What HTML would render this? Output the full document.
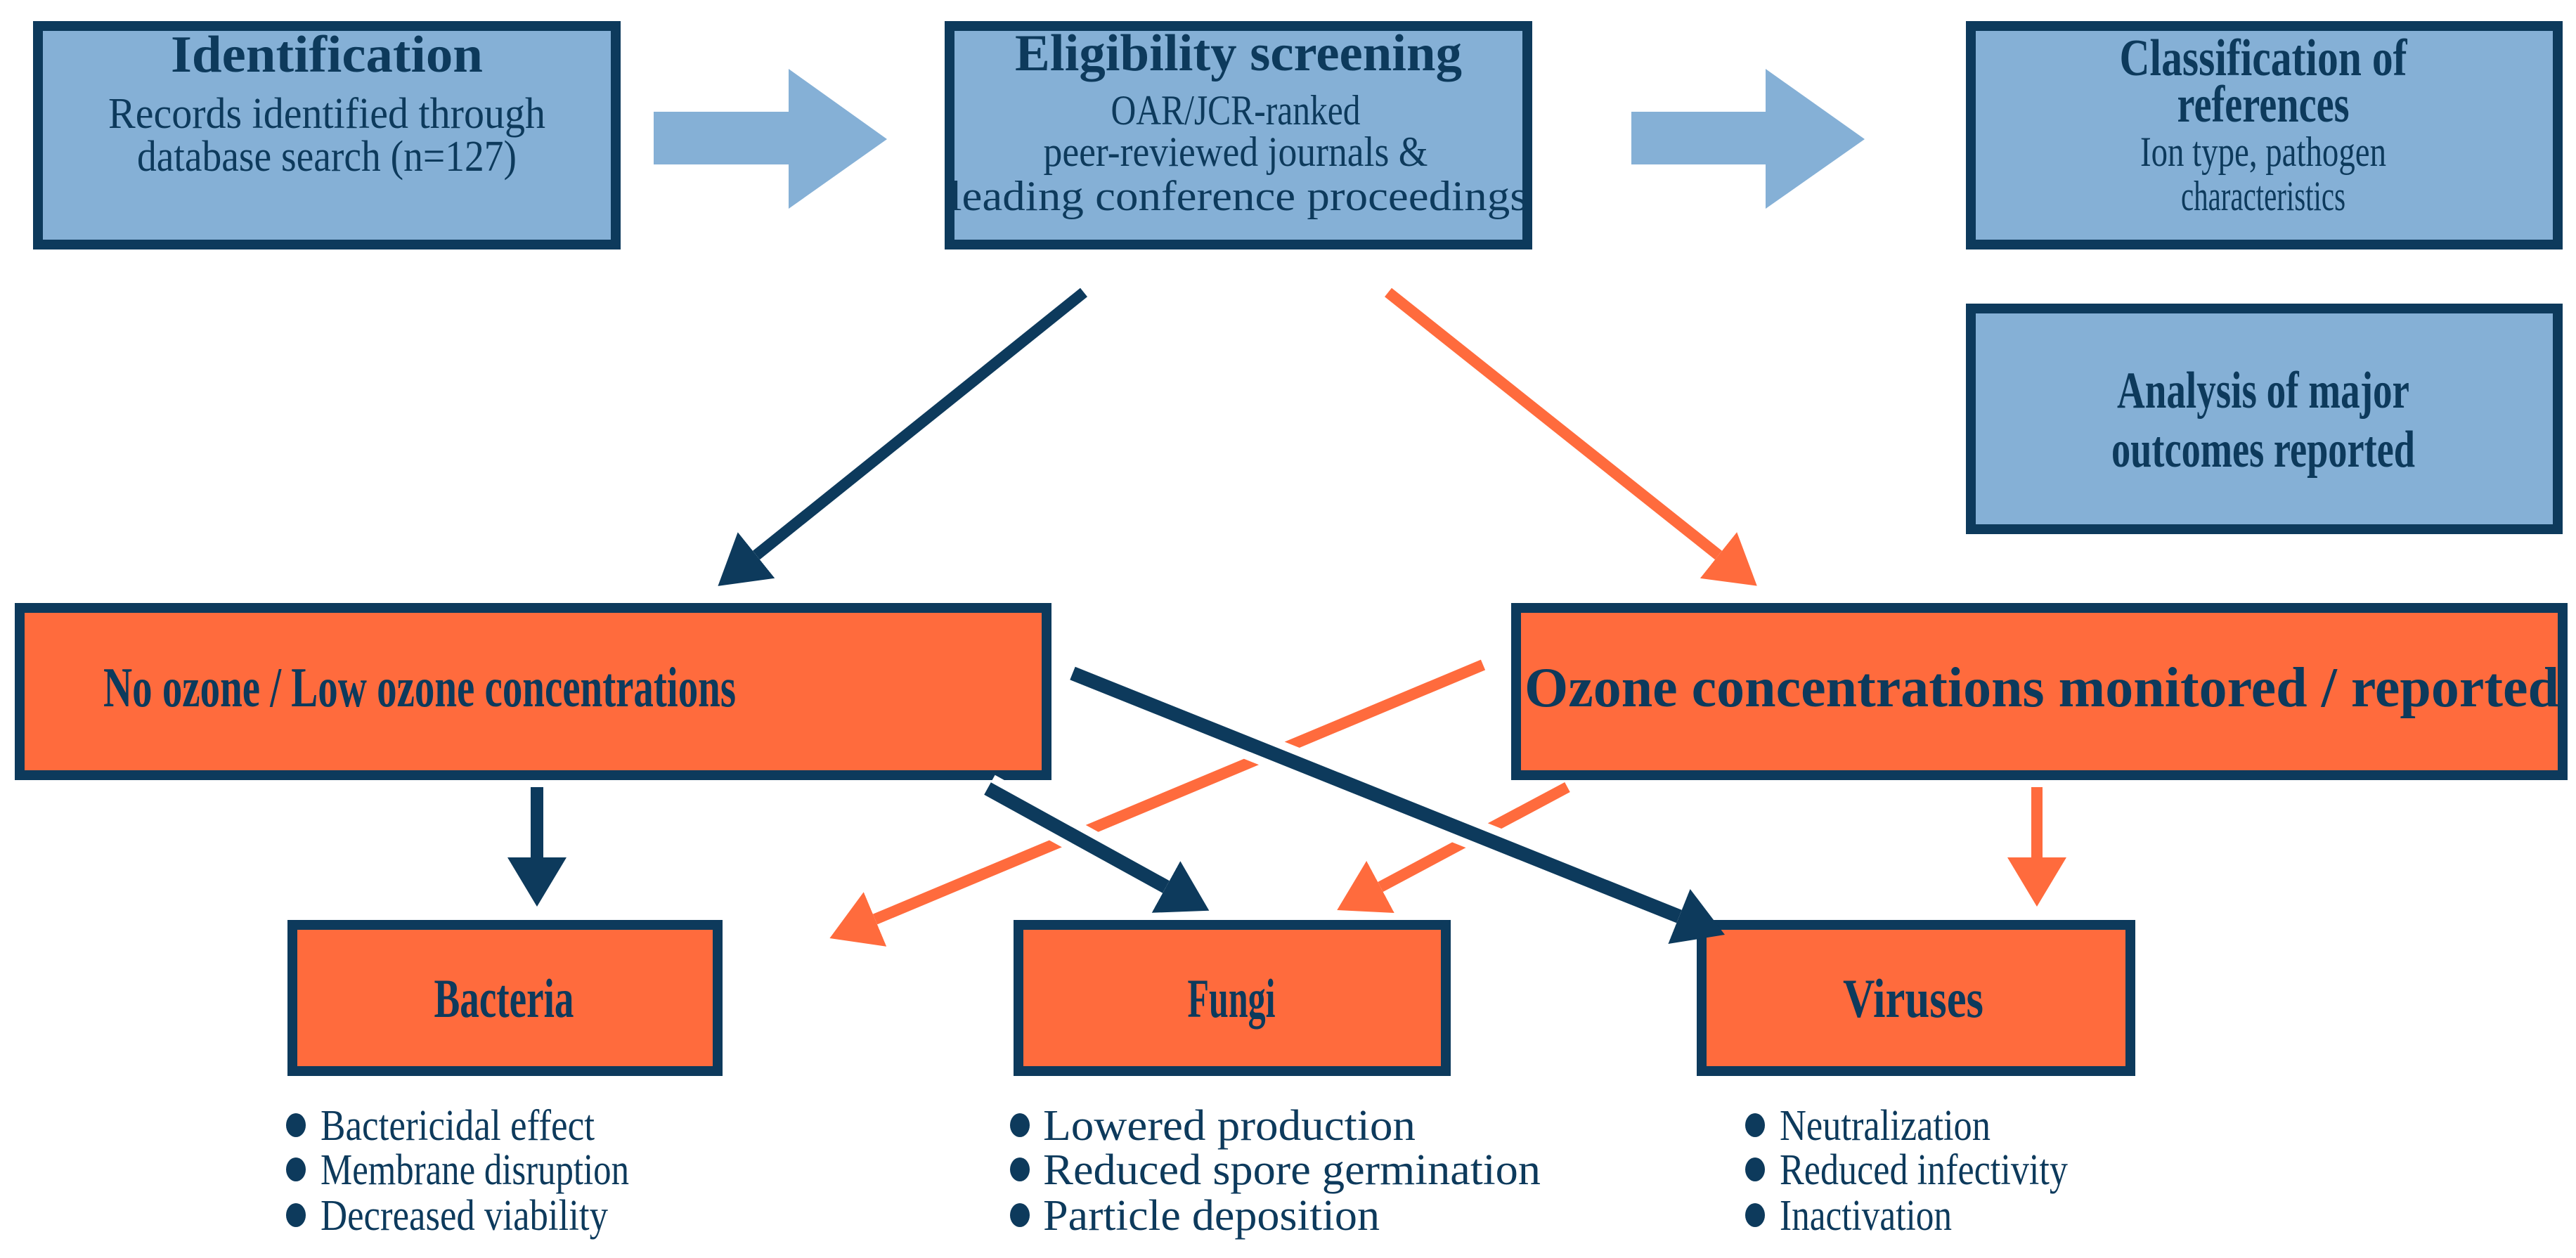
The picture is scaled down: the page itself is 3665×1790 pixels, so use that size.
<!DOCTYPE html>
<html><head><meta charset="utf-8"><style>
html,body{margin:0;padding:0;background:#fff;}
svg{display:block;}
text{font-family:"Liberation Serif",serif;fill:#0d3a5c;}
.b{font-weight:bold;}
</style></head><body>
<svg width="3665" height="1790" viewBox="0 0 3665 1790" xmlns="http://www.w3.org/2000/svg">
<defs>
<marker id="hd" markerUnits="userSpaceOnUse" markerWidth="70" markerHeight="84" viewBox="0 0 70 84" refX="0" refY="42" orient="auto"><path d="M0,0 L70,42 L0,84 z" fill="#0d3a5c"/></marker>
<marker id="ho" markerUnits="userSpaceOnUse" markerWidth="70" markerHeight="84" viewBox="0 0 70 84" refX="0" refY="42" orient="auto"><path d="M0,0 L70,42 L0,84 z" fill="#ff6b3d"/></marker>
</defs>

<g fill="#85b0d6" stroke="#0d3a5c" stroke-width="14">
<rect x="54" y="37" width="822" height="311"/>
<rect x="1351" y="37" width="822" height="311"/>
<rect x="2804" y="37" width="835" height="311"/>
<rect x="2804" y="439" width="835" height="314"/>
</g>
<path d="M930,159 L1122,159 L1122,98 L1262,198 L1122,297 L1122,234 L930,234 z" fill="#85b0d6"/>
<path d="M2321,159 L2512,159 L2512,98 L2653,198 L2512,297 L2512,234 L2321,234 z" fill="#85b0d6"/>

<text class="b" x="465" y="102" font-size="74" text-anchor="middle" textLength="444" lengthAdjust="spacingAndGlyphs">Identification</text>
<text x="465" y="182" font-size="62" text-anchor="middle" textLength="622" lengthAdjust="spacingAndGlyphs">Records identified through</text>
<text x="465" y="243" font-size="62" text-anchor="middle" textLength="540" lengthAdjust="spacingAndGlyphs">database search (n=127)</text>

<text class="b" x="1762" y="100" font-size="74" text-anchor="middle" textLength="636" lengthAdjust="spacingAndGlyphs">Eligibility screening</text>
<text x="1758" y="177" font-size="60" text-anchor="middle" textLength="355" lengthAdjust="spacingAndGlyphs">OAR/JCR-ranked</text>
<text x="1758" y="236" font-size="60" text-anchor="middle" textLength="547" lengthAdjust="spacingAndGlyphs">peer-reviewed journals &amp;</text>
<text x="1762" y="299" font-size="60" text-anchor="middle" textLength="823" lengthAdjust="spacingAndGlyphs">leading conference proceedings</text>

<text class="b" x="3220" y="107" font-size="74" text-anchor="middle" textLength="409" lengthAdjust="spacingAndGlyphs">Classification of</text>
<text class="b" x="3220" y="173" font-size="74" text-anchor="middle" textLength="245" lengthAdjust="spacingAndGlyphs">references</text>
<text x="3220" y="236" font-size="60" text-anchor="middle" textLength="350" lengthAdjust="spacingAndGlyphs">Ion type, pathogen</text>
<text x="3220" y="299" font-size="60" text-anchor="middle" textLength="234" lengthAdjust="spacingAndGlyphs">characteristics</text>

<text class="b" x="3220" y="580" font-size="74" text-anchor="middle" textLength="416" lengthAdjust="spacingAndGlyphs">Analysis of major</text>
<text class="b" x="3220" y="664" font-size="74" text-anchor="middle" textLength="432" lengthAdjust="spacingAndGlyphs">outcomes reported</text>

<line x1="1542" y1="416" x2="1076" y2="790" stroke="#0d3a5c" stroke-width="16" marker-end="url(#hd)"/>
<line x1="1975" y1="416" x2="2445" y2="790" stroke="#ff6b3d" stroke-width="16" marker-end="url(#ho)"/>

<g fill="#ff6b3d" stroke="#0d3a5c" stroke-width="14">
<rect x="28" y="865" width="1461" height="238"/>
<rect x="2157" y="865" width="1489" height="238"/>
<rect x="416" y="1316" width="605" height="208"/>
<rect x="1449" y="1316" width="608" height="208"/>
<rect x="2421" y="1316" width="610" height="208"/>
</g>
<text class="b" x="597" y="1005" font-size="80" text-anchor="middle" textLength="900" lengthAdjust="spacingAndGlyphs">No ozone / Low ozone concentrations</text>
<text class="b" x="2905" y="1005" font-size="80" text-anchor="middle" textLength="1472" lengthAdjust="spacingAndGlyphs">Ozone concentrations  monitored / reported</text>
<text class="b" x="717" y="1447" font-size="78" text-anchor="middle" textLength="199" lengthAdjust="spacingAndGlyphs">Bacteria</text>
<text class="b" x="1752" y="1447" font-size="78" text-anchor="middle" textLength="125" lengthAdjust="spacingAndGlyphs">Fungi</text>
<text class="b" x="2722" y="1447" font-size="78" text-anchor="middle" textLength="200" lengthAdjust="spacingAndGlyphs">Viruses</text>

<line x1="2110" y1="946" x2="1245" y2="1308" stroke="#ff6b3d" stroke-width="16" marker-end="url(#ho)"/>
<line x1="2230" y1="1120" x2="1964" y2="1262" stroke="#ff6b3d" stroke-width="16" marker-end="url(#ho)"/>
<line x1="2898" y1="1120" x2="2898" y2="1220" stroke="#ff6b3d" stroke-width="16" marker-end="url(#ho)"/>
<line x1="1405" y1="1122" x2="1659" y2="1262" stroke="#fff" stroke-width="44"/>
<line x1="1530" y1="960" x2="2389" y2="1304" stroke="#fff" stroke-width="44"/>
<line x1="764" y1="1120" x2="764" y2="1220" stroke="#0d3a5c" stroke-width="18" marker-end="url(#hd)"/>
<line x1="1405" y1="1122" x2="1659" y2="1262" stroke="#0d3a5c" stroke-width="20" marker-end="url(#hd)"/>
<line x1="1526" y1="958" x2="2389" y2="1304" stroke="#0d3a5c" stroke-width="20" marker-end="url(#hd)"/>

<g fill="#0d3a5c">
<ellipse cx="421" cy="1601" rx="14" ry="17"/><ellipse cx="421" cy="1664" rx="14" ry="17"/><ellipse cx="421" cy="1729" rx="14" ry="17"/>
<ellipse cx="1451" cy="1601" rx="14" ry="17"/><ellipse cx="1451" cy="1664" rx="14" ry="17"/><ellipse cx="1451" cy="1729" rx="14" ry="17"/>
<ellipse cx="2497" cy="1601" rx="14" ry="17"/><ellipse cx="2497" cy="1664" rx="14" ry="17"/><ellipse cx="2497" cy="1729" rx="14" ry="17"/>
</g>
<g font-size="62">
<text x="456" y="1622" textLength="390" lengthAdjust="spacingAndGlyphs">Bactericidal effect</text>
<text x="456" y="1685" textLength="439" lengthAdjust="spacingAndGlyphs">Membrane disruption</text>
<text x="456" y="1750" textLength="409" lengthAdjust="spacingAndGlyphs">Decreased viability</text>
<text x="1484" y="1622" textLength="530" lengthAdjust="spacingAndGlyphs">Lowered production</text>
<text x="1484" y="1685" textLength="708" lengthAdjust="spacingAndGlyphs">Reduced spore germination</text>
<text x="1484" y="1750" textLength="479" lengthAdjust="spacingAndGlyphs">Particle deposition</text>
<text x="2532" y="1622" textLength="300" lengthAdjust="spacingAndGlyphs">Neutralization</text>
<text x="2532" y="1685" textLength="410" lengthAdjust="spacingAndGlyphs">Reduced infectivity</text>
<text x="2532" y="1750" textLength="245" lengthAdjust="spacingAndGlyphs">Inactivation</text>
</g>
</svg>
</body></html>
